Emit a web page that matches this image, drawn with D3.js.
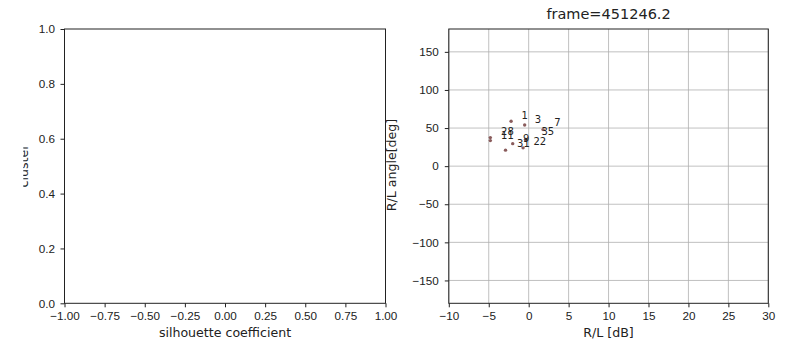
<!DOCTYPE html>
<html>
<head>
<meta charset="utf-8">
<script src="https://cdn.jsdelivr.net/npm/d3@7"></script>
<style>
  body { margin: 0; background: #fff; }
  svg { display: block; font-family: "DejaVu Sans", sans-serif; }
  .tick text { fill: #222; }
  .tick line { stroke: #222; }
</style>
</head>
<body>
<div id="chart"></div>
<script>
// silhouette panel ticks (empty axes)
const silXTicks = [-1.00, -0.75, -0.50, -0.25, 0.00, 0.25, 0.50, 0.75, 1.00];
const silYTicks = [0.0, 0.2, 0.4, 0.6, 0.8, 1.0];

// R/L scatter panel
const rlXTicks = [-10, -5, 0, 5, 10, 15, 20, 25, 30];
const rlYTicks = [-150, -100, -50, 0, 50, 100, 150];
const frameTitle = 'frame=451246.2';

// points [R/L dB, angle deg]
const pointsX = [-2.2, -0.5, -4.8, -4.8, -2.9, -2.0, -0.7, -0.4, 1.8];
const pointsY = [59, 54, 37.5, 33.5, 21, 29.5, 24, 35, 48];

// cluster labels, anchored at their own data position
const labelText = ['1', '3', '7', '35', '28', '11', '9', '31', '22'];
const labelX = [-0.9, 0.75, 3.2, 1.6, -3.45, -3.45, -0.7, -1.45, 0.6];
const labelY = [61.5, 56, 52.5, 40.5, 40.5, 36, 31.8, 25.5, 27.4];

const W = 792, H = 345;
const minus = s => s.replace('-', '\u2212');

const svg = d3.select('#chart').append('svg')
  .attr('width', W)
  .attr('height', H);

const plotTop = 29, plotBottom = 303.3;
const tickFont = '11.7px';
const labelFont = '12.6px';

// ---------- left panel ----------
const left = { x0: 64.5, x1: 385.5 };
const sx = d3.scaleLinear().domain([-1, 1]).range([left.x0, left.x1]);
const sy = d3.scaleLinear().domain([0, 1]).range([plotBottom, plotTop]);

const gL = svg.append('g');

gL.append('g')
  .attr('transform', `translate(0,${plotBottom})`)
  .call(d3.axisBottom(sx).tickValues(silXTicks).tickSize(4).tickPadding(4.5)
    .tickFormat(d => minus(d3.format('.2f')(d))))
  .call(g => g.select('.domain').remove())
  .call(g => g.selectAll('text').style('font-size', tickFont));

gL.append('g')
  .attr('transform', `translate(${left.x0},0)`)
  .call(d3.axisLeft(sy).tickValues(silYTicks).tickSize(4).tickPadding(5.5)
    .tickFormat(d3.format('.1f')))
  .call(g => g.select('.domain').remove())
  .call(g => g.selectAll('text').style('font-size', tickFont));

gL.append('rect')
  .attr('x', left.x0).attr('y', plotTop)
  .attr('width', left.x1 - left.x0).attr('height', plotBottom - plotTop)
  .attr('fill', 'none').attr('stroke', '#222').attr('stroke-width', 1);

gL.append('text')
  .attr('x', (left.x0 + left.x1) / 2).attr('y', 337)
  .attr('text-anchor', 'middle')
  .style('font-size', labelFont).style('fill', '#222')
  .text('silhouette coefficient');

// y label sits partly off the cropped figure edge
svg.append('clipPath').attr('id', 'cropL')
  .append('rect').attr('x', 23.3).attr('y', 0).attr('width', 40).attr('height', H);

svg.append('g')
  .attr('clip-path', 'url(#cropL)')
  .append('text')
  .attr('transform', `translate(27.5,166) rotate(-90)`)
  .attr('text-anchor', 'middle')
  .style('font-size', labelFont).style('fill', '#222')
  .text('cluster');

// ---------- right panel ----------
const right = { x0: 448.8, x1: 768.3 };
const x = d3.scaleLinear().domain([-10, 30]).range([right.x0, right.x1]);
const y = d3.scaleLinear().domain([-180, 180]).range([plotBottom, plotTop]);

const gR = svg.append('g');

// grid
gR.append('g')
  .selectAll('line')
  .data(rlXTicks)
  .enter().append('line')
  .attr('x1', d => x(d)).attr('x2', d => x(d))
  .attr('y1', plotTop).attr('y2', plotBottom)
  .attr('stroke', '#b0b0b0').attr('stroke-width', 0.8);

gR.append('g')
  .selectAll('line')
  .data(rlYTicks)
  .enter().append('line')
  .attr('x1', right.x0).attr('x2', right.x1)
  .attr('y1', d => y(d)).attr('y2', d => y(d))
  .attr('stroke', '#b0b0b0').attr('stroke-width', 0.8);

gR.append('g')
  .attr('transform', `translate(0,${plotBottom})`)
  .call(d3.axisBottom(x).tickValues(rlXTicks).tickSize(4).tickPadding(4.5)
    .tickFormat(d => minus(String(d))))
  .call(g => g.select('.domain').remove())
  .call(g => g.selectAll('text').style('font-size', tickFont));

gR.append('g')
  .attr('transform', `translate(${right.x0},0)`)
  .call(d3.axisLeft(y).tickValues(rlYTicks).tickSize(4).tickPadding(6)
    .tickFormat(d => minus(String(d))))
  .call(g => g.select('.domain').remove())
  .call(g => g.selectAll('text').style('font-size', tickFont));

gR.append('rect')
  .attr('x', right.x0).attr('y', plotTop)
  .attr('width', right.x1 - right.x0).attr('height', plotBottom - plotTop)
  .attr('fill', 'none').attr('stroke', '#222').attr('stroke-width', 1);

// points
gR.selectAll('circle.pt')
  .data(pointsX.map((d, i) => [d, pointsY[i]]))
  .enter().append('circle')
  .attr('class', 'pt')
  .attr('cx', d => x(d[0]))
  .attr('cy', d => y(d[1]))
  .attr('r', 1.7)
  .attr('fill', '#8a5c5c');

// labels
gR.selectAll('text.lbl')
  .data(labelText.map((t, i) => ({ t, x: labelX[i], y: labelY[i] })))
  .enter().append('text')
  .attr('class', 'lbl')
  .attr('x', d => x(d.x))
  .attr('y', d => y(d.y))
  .style('font-size', '10px').style('fill', '#222')
  .text(d => d.t);

gR.append('text')
  .attr('x', (right.x0 + right.x1) / 2).attr('y', 337)
  .attr('text-anchor', 'middle')
  .style('font-size', labelFont).style('fill', '#222')
  .text('R/L [dB]');

gR.append('text')
  .attr('transform', `translate(395.5,165) rotate(-90)`)
  .attr('text-anchor', 'middle')
  .style('font-size', labelFont).style('fill', '#222')
  .text('R/L angle[deg]');

gR.append('text')
  .attr('x', (right.x0 + right.x1) / 2).attr('y', 19)
  .attr('text-anchor', 'middle')
  .style('font-size', '14.5px').style('fill', '#222')
  .text(frameTitle);
</script>
</body>
</html>
